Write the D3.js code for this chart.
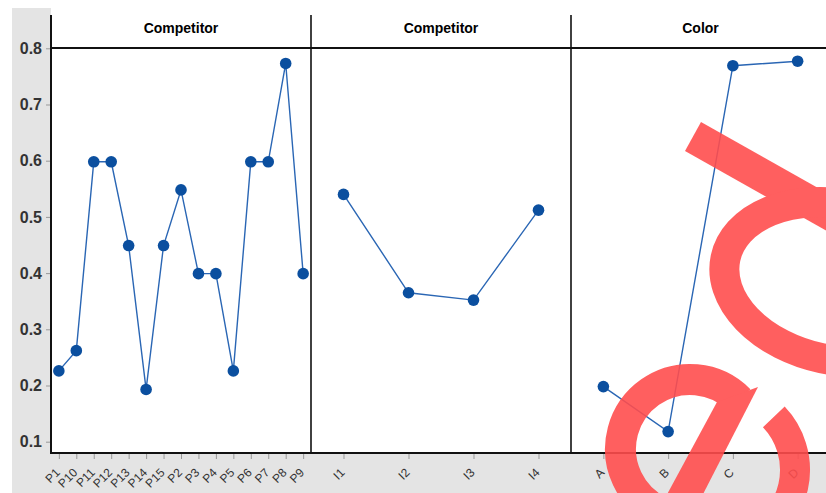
<!DOCTYPE html>
<html lang="en">
<head>
    <meta charset="UTF-8">
    <title>Main effects</title>
    <script src="https://cdnjs.cloudflare.com/ajax/libs/d3/7.8.5/d3.min.js"></script>
    <style>
        body { margin: 0; background: #fff; overflow: hidden; }
        svg { display: block; font-family: Arial, "Liberation Sans", sans-serif; }
        .title { font-size: 14px; font-weight: bold; fill: #000; }
        .ylab { font-size: 16px; font-weight: bold; fill: #333; }
        .xlab { font-size: 12px; fill: #333; }
        .line { fill: none; stroke: #2a66b4; stroke-width: 1.4px; }
        .dot { fill: #0b4f9f; }
        .stamp { opacity: 0.9; }
        .mark { fill: #ff4d4d; }
        .ring { fill: none; stroke: #ff4d4d; }
    </style>
</head>
<body>
<svg width="826" height="493"></svg>
<script>
    // values
    const pCats = ["P1", "P10", "P11", "P12", "P13", "P14", "P15", "P2", "P3", "P4", "P5", "P6", "P7", "P8", "P9"];
    const pVals = [0.226, 0.262, 0.598, 0.598, 0.449, 0.193, 0.449, 0.548, 0.399, 0.399, 0.226, 0.598, 0.598, 0.773, 0.399];
    const iCats = ["I1", "I2", "I3", "I4"];
    const iVals = [0.540, 0.365, 0.352, 0.512];
    const colorCats = ["A", "B", "C", "D"];
    const colorVals = [0.198, 0.118, 0.769, 0.777];
    const titles = ["Competitor", "Competitor", "Color"];
    const yTicks = [0.1, 0.2, 0.3, 0.4, 0.5, 0.6, 0.7, 0.8];

    const svg = d3.select("svg");
    const plotTop = 48, plotBottom = 453, headTop = 8;

    const panels = [
        { title: titles[0], cats: pCats, vals: pVals, x0: 51, x1: 311, pad: 0.45 },
        { title: titles[1], cats: iCats, vals: iVals, x0: 311, x1: 571, pad: 0.5 },
        { title: titles[2], cats: colorCats, vals: colorVals, x0: 571, x1: 830, pad: 0.5 }
    ];

    const y = d3.scaleLinear().domain([0.1, 0.8]).range([441.7, 48.3]);

    // grey frame and white plot / header area
    svg.append("rect").attr("x", 12).attr("y", headTop).attr("width", 814).attr("height", 485).attr("fill", "#e4e4e4");
    svg.append("rect").attr("x", 51).attr("y", headTop).attr("width", 775).attr("height", plotBottom - headTop).attr("fill", "#fff");

    // y axis
    const yAxis = svg.append("g")
        .attr("transform", "translate(51,0)")
        .call(d3.axisLeft(y).tickValues(yTicks).tickFormat(d3.format(".1f")).tickSize(5).tickPadding(4));
    yAxis.select(".domain").remove();
    yAxis.selectAll("line").attr("stroke", "#999");
    yAxis.selectAll("text").attr("class", "ylab").attr("fill", null);

    const line = d3.line();

    panels.forEach(p => {
        const x = d3.scalePoint().domain(p.cats).range([p.x0, p.x1]).padding(p.pad);
        const g = svg.append("g");

        const xAxis = g.append("g")
            .attr("transform", `translate(0,${plotBottom})`)
            .call(d3.axisBottom(x).tickSize(6).tickSizeOuter(0));
        xAxis.select(".domain").remove();
        xAxis.selectAll("line").attr("stroke", "#999");
        xAxis.selectAll("text")
            .attr("class", "xlab")
            .attr("fill", null)
            .attr("text-anchor", "end")
            .attr("dy", null)
            .attr("transform", "translate(-5,14) rotate(-45)");

        g.append("text")
            .attr("class", "title")
            .attr("x", (p.x0 + p.x1) / 2)
            .attr("y", 33)
            .attr("text-anchor", "middle")
            .text(p.title);

        g.append("path")
            .attr("class", "line")
            .attr("d", line(p.cats.map((c, i) => [x(c), y(p.vals[i])])));

        g.selectAll(".dot")
            .data(p.cats)
            .enter()
            .append("circle")
            .attr("class", "dot")
            .attr("cx", d => x(d))
            .attr("cy", (d, i) => y(p.vals[i]))
            .attr("r", 5.8);
    });

    // frame lines
    const frame = svg.append("g").attr("stroke", "#111");
    frame.append("line").attr("x1", 51).attr("x2", 826).attr("y1", plotTop).attr("y2", plotTop).attr("stroke-width", 2);
    frame.append("line").attr("x1", 51).attr("x2", 826).attr("y1", plotBottom).attr("y2", plotBottom).attr("stroke-width", 2);
    frame.append("line").attr("x1", 51).attr("x2", 51).attr("y1", 15).attr("y2", plotBottom + 1).attr("stroke-width", 2);
    [311, 571].forEach(v => {
        frame.append("line").attr("x1", v).attr("x2", v).attr("y1", 15).attr("y2", plotBottom).attr("stroke-width", 1.6);
    });

    // red watermark stamp (opacity on the group so overlaps stay flat)
    const wm = svg.append("g").attr("class", "stamp");
    const arcPath = (cx, cy, r, a0, a1, large, sweep) =>
        `M ${cx + r * Math.cos(a0)} ${cy + r * Math.sin(a0)} A ${r} ${r} 0 ${large} ${sweep} ${cx + r * Math.cos(a1)} ${cy + r * Math.sin(a1)}`;

    wm.append("path").attr("class", "mark")
        .attr("d", "M701,122 L850,206 L834,235 L685,151 Z");
    wm.append("ellipse").attr("class", "ring")
        .attr("cx", 838).attr("cy", 282).attr("rx", 115).attr("ry", 78)
        .attr("transform", "rotate(12,838,282)")
        .attr("stroke-width", 30);
    wm.append("path").attr("class", "ring")
        .attr("stroke-width", 31)
        .attr("d", arcPath(690, 449, 69.5, -0.78, 1.3, 1, 0));
    wm.append("path").attr("class", "mark")
        .attr("d", "M717,402 L758,387 L700,500 L664,500 Z");
    wm.append("path").attr("class", "ring")
        .attr("stroke-width", 30)
        .attr("d", arcPath(718, 470, 77, -0.76, 1.2, 0, 1));
</script>
</body>
</html>
